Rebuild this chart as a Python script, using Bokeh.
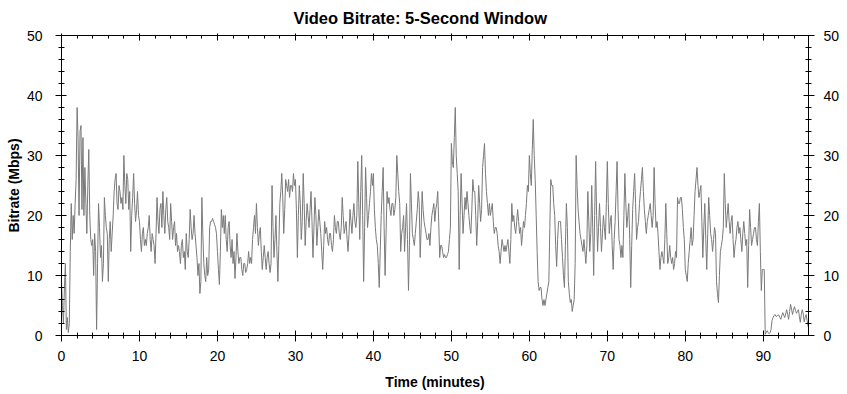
from bokeh.plotting import figure
from bokeh.models import (LinearAxis, SingleIntervalTicker, Range1d, ColumnDataSource,
                          CustomLabelingPolicy)
from bokeh.embed import file_html
from bokeh.resources import INLINE

TITLE = "Video Bitrate: 5-Second Window"
X_LABEL = "Time (minutes)"
Y_LABEL = "Bitrate (Mbps)"

sample_step_min = 0.125

# bitrate (Mbps), eight samples per minute
bitrate = [
    9, 5, 2, 8, 12, 1, 3, 0.5,            2, 14, 22, 16, 20, 17, 22, 26,
    38, 33, 20, 34, 35, 21, 33, 20,       28, 22, 17, 25, 31, 20, 16, 15,
    16, 10, 17, 14, 1, 12, 22, 18,        13, 15, 9, 12, 23, 20, 18, 17,
    9, 16, 19, 14, 17, 20, 24, 26,        27, 22, 21, 25, 24, 22, 23, 21,
    30, 25, 22, 27, 26, 21, 24, 14,       20, 23, 27, 22, 19, 21, 24, 20,
    19, 16, 14, 17, 18, 15, 16, 15,       17, 18, 20, 16, 14, 17, 16, 15,
    12, 17, 23, 19, 17, 21, 22, 18,       24, 20, 17, 21, 23, 19, 18, 16,
    22, 19, 16, 18, 19, 15, 17, 14,       15, 14, 12, 15, 16, 13, 14, 11,
    17, 14, 13, 16, 21, 18, 16, 17,       20, 17, 15, 13, 10, 12, 7, 9,
    23, 17, 12, 10, 9, 13, 10, 11,        18, 19, 19, 19.5, 19, 18.5, 18, 17,
    14, 11, 8.5, 14, 21, 18, 20, 17,      20, 16, 14, 18, 19, 15, 13, 16,
    12, 14, 9.5, 13, 17, 14, 12, 13,      13, 11, 10, 12, 12, 10.5, 11, 12,
    14, 12, 13, 12, 16, 18, 20, 17,       22, 18, 15, 17, 18, 14, 11, 13,
    15, 13, 11, 13, 14, 12, 10.5, 12,     25, 18, 13, 16, 20, 14, 9, 15,
    22, 24, 27, 23, 17, 21, 26, 25,       24, 26, 23, 25, 25, 24, 27, 25,
    26, 21, 13, 20, 25, 22, 16, 19,       27, 22, 15, 19, 22, 20, 18, 21,
    24, 19, 13, 18, 23, 20, 15, 18,       21, 19, 17, 14, 11, 15, 19, 17,
    18, 16, 15, 17, 17, 15, 14, 16,       20, 18, 17, 19, 19, 17, 16, 18,
    23, 20, 17, 18, 19, 16, 14, 17,       21, 19, 17, 20, 22, 19, 18, 20,
    29, 22, 16, 24, 30, 20, 9, 18,        28, 23, 18, 20, 22, 24, 27, 25,
    27, 21, 18, 16, 15, 12, 8, 14,        20, 24, 28, 18, 10, 17, 24, 22,
    23, 21, 20, 22, 22, 20, 21, 23,       30, 27, 24, 22, 14, 17, 18, 20,
    14, 18, 22, 16, 7.5, 15, 27, 22,      17, 16, 15, 17, 19, 21, 24, 22,
    13, 18, 24, 21, 19, 18, 17, 16,       16, 17, 15, 18, 20, 21, 22, 19,
    21, 22, 24, 19, 13, 15, 15, 14,       13, 13.5, 13, 13, 13.5, 14, 16, 18,
    32, 29, 28, 33, 38, 30, 27, 24,       11, 20, 27, 22, 17, 20, 23, 21,
    24, 22, 20, 18, 17, 21, 26, 24,       24, 20, 15, 19, 25, 22, 19, 21,
    28, 30, 32, 27, 24, 22, 20, 22,       20, 21, 22, 19, 17, 18, 18, 17,
    15, 14, 12, 14, 16, 15, 14, 15,       14, 15, 16, 14, 12, 16, 22, 19,
    20, 18, 17, 19, 21, 19, 17, 18,       15, 17, 19, 18, 20, 22, 25, 24,
    30, 27, 25, 31, 36, 30, 26, 20,       14, 9, 7.5, 8, 8, 6, 5, 6,
    5, 6, 7, 8, 9, 18, 26, 25,            25, 22, 20, 15, 11.5, 16, 19, 19,
    19, 16, 13, 10, 8, 15, 22, 18,        9, 7, 5.5, 6, 4, 5, 6, 12,
    30, 25, 21, 19, 17, 16, 15, 14,       16, 14, 12, 15, 24, 19, 14, 17,
    25, 18, 10, 20, 29, 20, 14, 18,       22, 18, 14, 17, 20, 18, 16, 22,
    29, 22, 17, 19, 20, 15, 11, 16,       19, 24, 29, 21, 16, 15, 13, 15,
    13, 20, 27, 22, 18, 20, 22, 16,       8, 15, 21, 24, 27, 22, 16, 18,
    19, 22, 24, 26, 28, 24, 21, 19,       17, 19, 20, 21, 22, 20, 18, 20,
    28, 22, 18, 19, 17, 14, 11, 13,       14, 13, 12, 16, 22, 17, 12, 13,
    15, 13, 12, 13, 11, 12, 14, 13,       23, 22, 22, 23, 23, 21, 18, 16,
    11, 10, 9, 12, 14, 16, 18, 15,        16, 20, 24, 26, 28, 25, 23, 24,
    25, 19, 13, 18, 22, 16, 11, 17,       23, 20, 17, 16, 14, 16, 18, 17,
    9, 7, 5.5, 10, 14, 15, 16, 18,        27, 22, 18, 20, 22, 19, 17, 19,
    20, 16, 13, 15, 16, 18, 19, 17,       18, 16, 14, 17, 19, 17, 15, 16,
    8, 15, 21, 18, 15, 16, 17, 18,        18, 16, 15, 19, 22, 14, 7.5, 11,
    11, 11, 0.2, 0.5, 0.8, 0.5, 0.3, 0.5, 1, 2.5, 3, 3.3, 3.5, 3.2, 3.2, 3.4,
    3.4, 3, 2.7, 3.3, 3.8, 3.4, 3, 3.6,   4.3, 3.5, 2.7, 4, 5.2, 4.4, 3.5, 4.2,
    4.8, 4.2, 3.7, 4, 4.3, 3.2, 2.2, 3.5, 4.3, 3.6, 2.3, 3, 3.5, 2.5, 1.5,
]
time_min = [i * sample_step_min for i in range(len(bitrate))]

X_MAX = 95.8
Y_MAX = 50

source = ColumnDataSource(data=dict(t=time_min, v=bitrate))

FONT = "Liberation Sans"

p = figure(width=845, height=392, output_backend="svg", toolbar_location=None,
           x_range=Range1d(0, X_MAX), y_range=Range1d(0, Y_MAX),
           x_axis_type=None, y_axis_type=None,
           min_border_left=61, min_border_right=37, min_border_top=35, min_border_bottom=57,
           background_fill_color="white", border_fill_color="white")
p.outline_line_color = None

p.title.text = TITLE
p.title.align = "left"
p.title.offset = 232
p.title.text_font = FONT
p.title.text_font_size = "16.5px"
p.title.text_font_style = "bold"
p.title.text_color = "black"
p.title.standoff = 13

p.line("t", "v", source=source, line_color="#7a7a7a", line_width=1)


def make_axis(label=None, show_labels=True, tick_out=6, minor_out=3, standoff=8):
    ax = LinearAxis(ticker=SingleIntervalTicker(interval=10, num_minor_ticks=5))
    ax.axis_line_color = "black"
    ax.major_tick_line_color = "black"
    ax.minor_tick_line_color = "black"
    ax.major_tick_in = 5
    ax.major_tick_out = tick_out
    ax.minor_tick_in = 3
    ax.minor_tick_out = minor_out
    ax.major_label_text_font = FONT
    ax.major_label_text_color = "black"
    if show_labels:
        ax.major_label_text_font_size = "14px"
        ax.major_label_standoff = standoff
    else:
        ax.major_label_text_font_size = "0px"
        ax.major_label_standoff = 0
        ax.major_label_policy = CustomLabelingPolicy(
            code="for (const i of indices) { indices.unset(i) }\nreturn indices")
    if label:
        ax.axis_label = label
        ax.axis_label_text_font = FONT
        ax.axis_label_text_font_size = "14px"
        ax.axis_label_text_font_style = "bold"
        ax.axis_label_text_color = "black"
    return ax


bottom = make_axis(X_LABEL, standoff=9)
bottom.axis_label_standoff = 10
left = make_axis(Y_LABEL, standoff=13)
left.axis_label_standoff = 2
right = make_axis(standoff=9)
top = make_axis(show_labels=False, tick_out=2, minor_out=0)

p.add_layout(bottom, "below")
p.add_layout(left, "left")
p.add_layout(right, "right")
p.add_layout(top, "above")

open("out.html", "w").write(file_html(p, INLINE))
